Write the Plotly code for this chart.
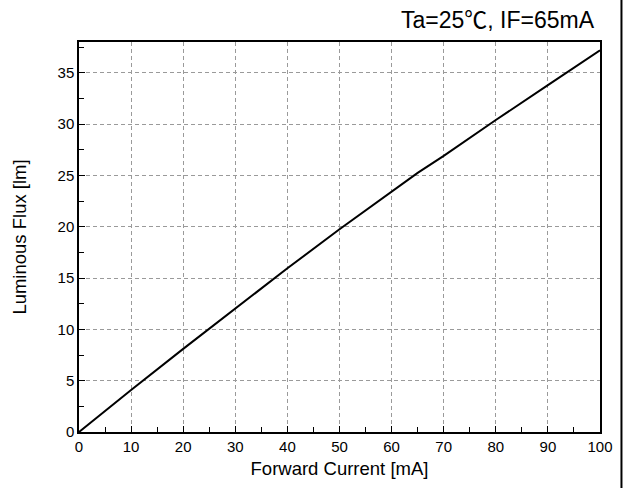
import plotly.graph_objects as go

current_ma = [0, 10, 20, 30, 40, 50, 60, 65, 70, 80, 90, 100]
flux_lm = [0, 4.1, 8.1, 12.05, 15.95, 19.75, 23.4, 25.25, 26.9, 30.4, 33.8, 37.2]
x_ticks = [0, 10, 20, 30, 40, 50, 60, 70, 80, 90, 100]
y_ticks = [0, 5, 10, 15, 20, 25, 30, 35]

fig = go.Figure()
fig.add_trace(go.Scatter(x=current_ma, y=flux_lm, mode="lines",
                         line=dict(color="black", width=2), showlegend=False))

font = "Liberation Sans, Arial, sans-serif"
fig.update_layout(
    width=625, height=488,
    margin=dict(l=79, r=25, t=42, b=56),
    paper_bgcolor="white", plot_bgcolor="white",
    font=dict(family=font, color="black", size=15),
    xaxis=dict(range=[0, 100], tickvals=x_ticks, ticks="inside", ticklen=6,
               tickwidth=1.3, tickcolor="black",
               minor=dict(ticks="inside", ticklen=5, dtick=5, tickcolor="black", tickwidth=1.3, showgrid=False),
               showline=True, linecolor="black", linewidth=1.5, mirror=True,
               showgrid=True, gridcolor="#9a9a9a", griddash="4px,3px", gridwidth=1,
               zeroline=False, tickfont=dict(size=15),
               title=dict(text="Forward Current [mA]", font=dict(size=18.5), standoff=8)),
    yaxis=dict(range=[0, 38], tickvals=y_ticks, ticks="inside", ticklen=6,
               tickwidth=1.3, tickcolor="black",
               minor=dict(ticks="inside", ticklen=5, dtick=2.5, tickcolor="black", tickwidth=1.3, showgrid=False),
               showline=True, linecolor="black", linewidth=1.5, mirror=True,
               showgrid=True, gridcolor="#9a9a9a", griddash="4px,3px", gridwidth=1,
               zeroline=False, tickfont=dict(size=15),
               title=dict(text="Luminous Flux [lm]", font=dict(size=18.5), standoff=26)),
)

fig.add_annotation(text="Ta=25<span style=\"font-family:'Noto Sans CJK SC'\">\u2103</span>, IF=65mA",
                   xref="paper", yref="paper",
                   x=0.994, y=1.0, xanchor="right", yanchor="bottom", yshift=5,
                   showarrow=False, font=dict(size=23, family=font, color="black"))

fig.add_shape(type="line", xref="paper", yref="paper",
              x0=1.0412, x1=1.0412, y0=-0.2, y1=1.2,
              line=dict(color="black", width=2))

fig.write_html("out.html", config={"displayModeBar": False},
               post_script="document.body.style.margin='0';document.body.style.overflow='hidden';")
